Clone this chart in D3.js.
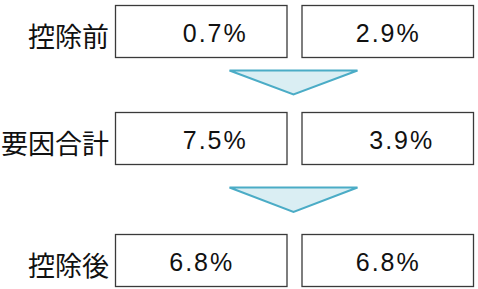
<!DOCTYPE html>
<html>
<head>
<meta charset="utf-8">
<script src="https://cdn.jsdelivr.net/npm/d3@7"></script>
<style>
  body { margin: 0; background: #fff; }
  svg { display: block; }
</style>
</head>
<body>
<script>
// Paste your data here
const rows = ["控除前", "要因合計", "控除後"];
const cols = ["left", "right"];
const leftLabels = ["\u30000.7%", "\u30007.5%", "6.8%"];
const rightLabels = ["2.9%", "\u30003.9%", "6.8%"];

const width = 478, height = 289;
const boxW = 171.5, boxH = 52;

// box placement
const xLeft = d3.scaleOrdinal().domain(cols).range([115, 115 + boxW + 15]);
const yTop = d3.scaleOrdinal().domain(rows).range([5, 112, 234]);

const svg = d3.select("body")
  .append("svg")
  .attr("width", width)
  .attr("height", height);

const cells = [];
rows.forEach((r, i) => {
  cells.push({ row: r, col: "left", label: leftLabels[i] });
  cells.push({ row: r, col: "right", label: rightLabels[i] });
});

svg.selectAll("rect.box")
  .data(cells)
  .enter()
  .append("rect")
  .attr("class", "box")
  .attr("x", d => xLeft(d.col) + 0.5)
  .attr("y", d => yTop(d.row) + 0.5)
  .attr("width", boxW)
  .attr("height", boxH)
  .attr("fill", "#fff")
  .attr("stroke", "#3a3a3a")
  .attr("stroke-width", 1.3);

svg.selectAll("text.val")
  .data(cells)
  .enter()
  .append("text")
  .attr("class", "val")
  .attr("x", d => xLeft(d.col) + boxW / 2 + 1)
  .attr("y", d => yTop(d.row) + boxH / 2 + 11)
  .attr("text-anchor", "middle")
  .style("white-space", "pre")
  .attr("font-family", "'Liberation Sans', Arial, 'Noto Sans CJK JP', sans-serif")
  .attr("font-size", "25px")
  .attr("letter-spacing", "2px")
  .attr("fill", "#111")
  .text(d => d.label);

// row labels
svg.selectAll("text.rowlab")
  .data(rows)
  .enter()
  .append("text")
  .attr("class", "rowlab")
  .attr("x", 109)
  .attr("y", d => yTop(d) + boxH / 2 + 4)
  .attr("text-anchor", "end")
  .attr("dominant-baseline", "central")
  .attr("font-family", "'Noto Sans CJK JP', sans-serif")
  .attr("font-size", "27px")
  .attr("fill", "#111")
  .text(d => d);

// down arrows between rows
const arrows = [
  { top: 70.5, bottom: 94.5 },
  { top: 187.5, bottom: 212 }
];
svg.selectAll("path.arrow")
  .data(arrows)
  .enter()
  .append("path")
  .attr("class", "arrow")
  .attr("d", d => `M229.5,${d.top}L357.5,${d.top}L293.5,${d.bottom}Z`)
  .attr("fill", "#daeef3")
  .attr("stroke", "#4bacc6")
  .attr("stroke-width", 2)
  .attr("stroke-linejoin", "miter");
</script>
</body>
</html>
